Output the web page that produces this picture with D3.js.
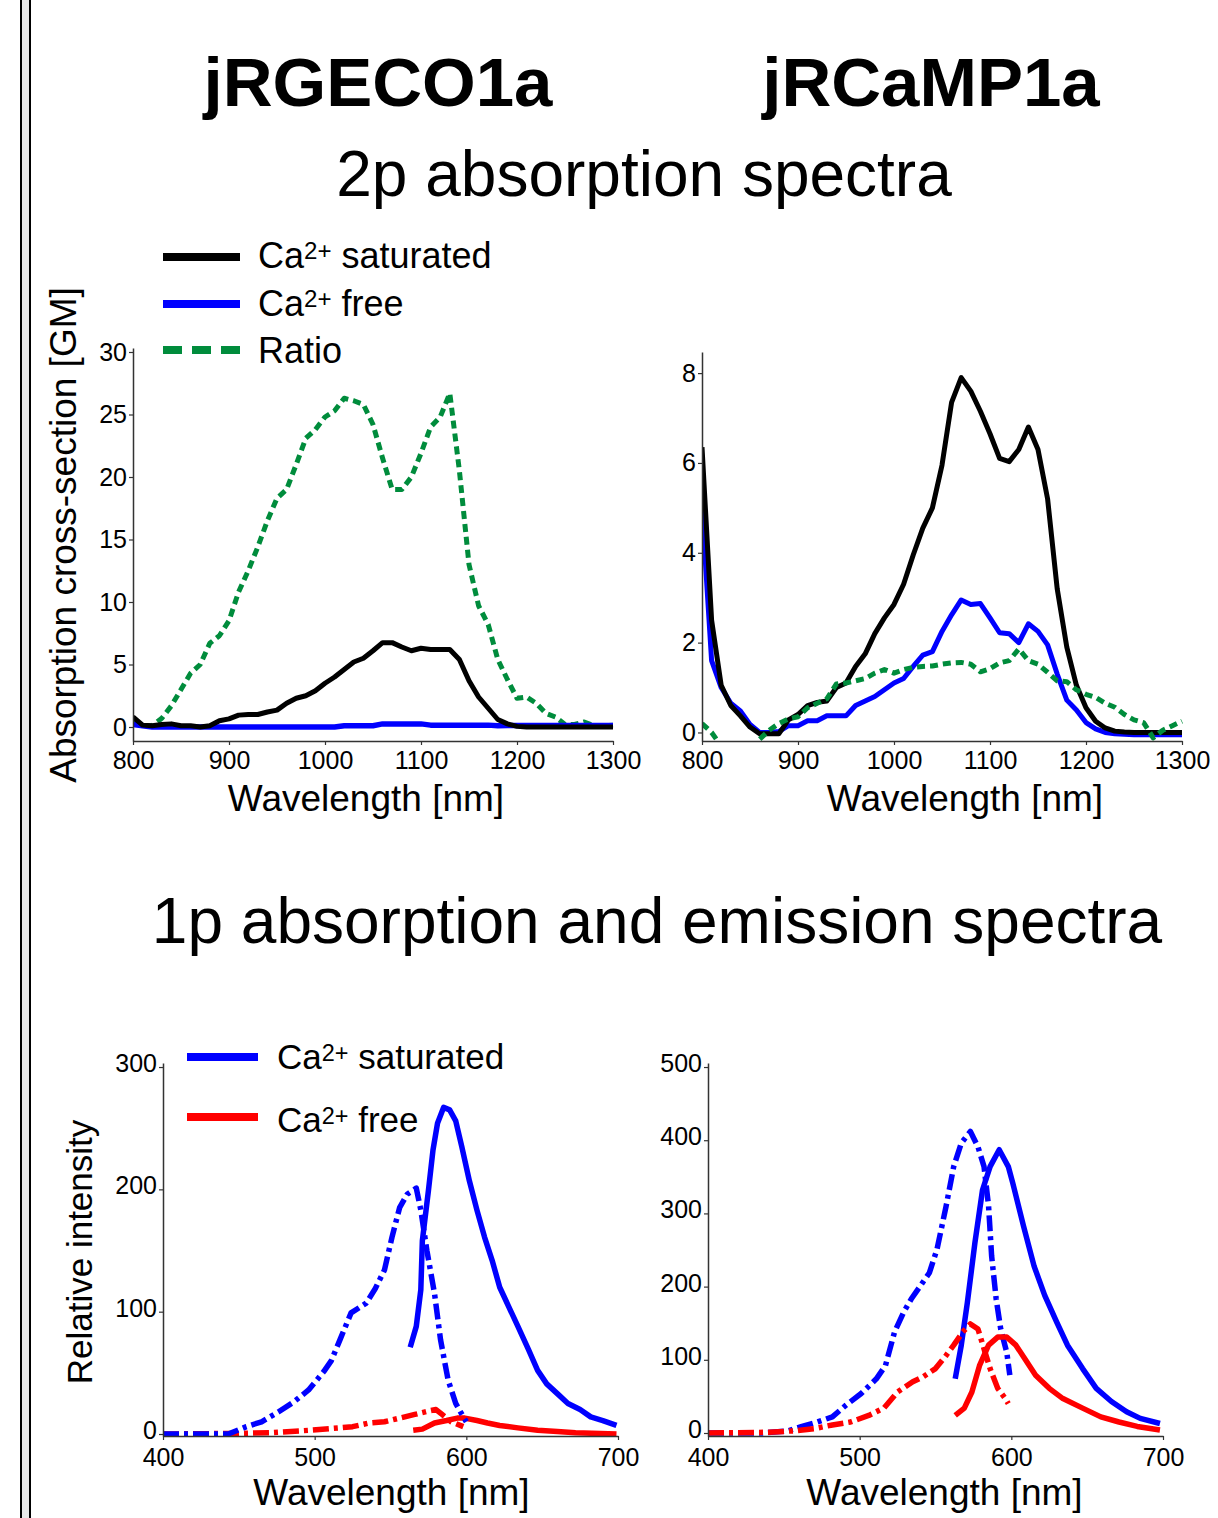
<!DOCTYPE html>
<html>
<head>
<meta charset="utf-8">
<script src="https://cdn.jsdelivr.net/npm/d3@7/dist/d3.min.js"></script>
<style>
body { margin: 0; background: #fff; }
svg { display: block; font-family: "Liberation Sans", Arial, sans-serif; }
</style>
</head>
<body>
<script>
// ---- 2p absorption data (GM), 10 nm steps ----
var wl2p = [800,810,820,830,840,850,860,870,880,890,900,910,920,930,940,950,960,970,980,990,
            1000,1010,1020,1030,1040,1050,1060,1070,1080,1090,1100,1110,1120,1130,1140,1150,1160,1170,1180,1190,
            1200,1210,1220,1230,1240,1250,1260,1270,1280,1290,1300];

var rgecoSat = [0.8,0.15,0.1,0.2,0.25,0.1,0.1,0.0,0.1,0.5,0.65,0.95,1.0,1.0,1.2,1.35,1.9,2.3,2.5,2.9,
                3.5,4.0,4.6,5.2,5.5,6.1,6.75,6.75,6.4,6.1,6.3,6.2,6.2,6.2,5.4,3.7,2.4,1.5,0.6,0.25,
                0.05,0,0,0,0,0,0,0,0,0,0];
var rgecoFree = [0.2,0.1,0,0,0,0,0,0,0,0,0,0,0,0,0,0,0,0,0,0,
                 0,0,0.1,0.1,0.1,0.1,0.25,0.25,0.25,0.25,0.25,0.15,0.15,0.15,0.15,0.15,0.15,0.15,0.1,0.12,
                 0.12,0.12,0.12,0.12,0.12,0.12,0.12,0.12,0.12,0.12,0.12];
var rgecoRatio = [0.3,0.1,0.1,0.7,1.7,3.0,4.3,5.0,6.7,7.3,8.5,10.8,12.5,14.4,16.5,18.3,19.0,21.0,23.1,23.8,
                  24.8,25.3,26.3,26.1,25.8,24.2,21.5,19.0,19.0,20.0,21.9,24.0,24.8,26.7,20.5,13.0,9.7,8.2,5.4,3.8,
                  2.3,2.4,1.9,1.1,0.8,0.2,0.2,0.4,0.1,0.1,0.15];

var rcampSat = [6.35,2.5,1.05,0.6,0.37,0.12,-0.03,-0.03,-0.03,0.28,0.4,0.6,0.67,0.7,1.0,1.1,1.47,1.75,2.2,2.55,
                2.85,3.3,3.95,4.55,5.0,5.95,7.35,7.9,7.6,7.15,6.65,6.1,6.03,6.3,6.8,6.3,5.2,3.2,1.9,1.05,
                0.55,0.25,0.1,0.03,0.01,0,0,0,0,0,0];
var rcampFree = [5.0,1.6,1.0,0.65,0.48,0.18,0.0,0.0,0.02,0.15,0.15,0.26,0.26,0.37,0.37,0.37,0.6,0.7,0.8,0.95,
                 1.1,1.2,1.47,1.72,1.8,2.25,2.62,2.95,2.85,2.87,2.55,2.22,2.2,2.0,2.42,2.25,1.95,1.3,0.72,0.5,
                 0.22,0.08,0.0,-0.03,-0.04,-0.05,-0.05,-0.05,-0.05,-0.05,-0.05];
var rcampRatio = [0.2,0.0,-0.3,-0.5,-0.5,-0.4,-0.15,0.05,0.2,0.3,0.35,0.55,0.65,0.75,1.08,1.1,1.15,1.2,1.32,1.4,
                  1.32,1.4,1.45,1.47,1.48,1.52,1.55,1.56,1.52,1.35,1.42,1.55,1.6,1.86,1.6,1.52,1.34,1.15,1.13,0.95,
                  0.85,0.78,0.65,0.56,0.4,0.28,0.22,-0.12,0.05,0.15,0.25];

// ---- 1p absorption (dash-dot) and emission (solid) data ----
var rgecoAbsSatWl = [400,430,443,455,465,476,486,496,506,511,517,524,534,540,546,551,556,561,567,570,574,579,583,588,593,598,600];
var rgecoAbsSat   = [0,0,0,6,10,18,26,36,51,60,78,99,107,119,134,161,185,196,201,183,150,115,77,44,25,14,10];
var rgecoEmSatWl  = [563,567,570,571,575,578,581,585,589,593,597,602,607,612,617,622,628,634,641,647,653,660,667,675,682,690,699];
var rgecoEmSat    = [71,88,118,158,199,232,254,267,265,256,235,207,183,161,142,120,104,88,69,52,41,33,25,20,14,11,7];
var rgecoAbsFreeWl = [400,450,470,496,516,525,536,546,556,566,576,580,584,590,598];
var rgecoAbsFree   = [0,0.5,1,3,5,6,9,10,13,16,19,20,16,10,6];
var rgecoEmFreeWl  = [565,571,579,587,594,599,607,614,622,634,647,660,672,699];
var rgecoEmFree    = [3,4,9,11,13,13,11,9,7,5,3,2,1,0];

var rcampAbsSatWl = [400,436,453,462,472,482,491,501,511,517,523,529,534,540,546,551,557,562,567,573,578,582,585,587,590,593,597,599];
var rcampAbsSat   = [0,0,3,9,15,22,38,54,74,92,138,165,183,201,219,251,310,364,396,412,391,364,310,242,183,142,110,79];
var rcampEmSatWl  = [563,567,571,576,581,586,592,598,601,608,615,622,630,637,647,656,666,676,685,698];
var rcampEmSat    = [74,120,178,260,332,364,387,364,341,283,228,188,151,120,88,61,43,29,20,13];
var rcampAbsFreeWl = [400,440,457,470,482,494,506,516,525,535,542,550,557,562,568,573,578,582,586,591,596,598];
var rcampAbsFree   = [0,1,3,6,11,15,24,34,56,70,77,88,106,120,138,149,142,115,88,61,47,40];
var rcampEmFreeWl  = [563,569,574,579,585,591,597,603,609,616,625,634,647,659,671,683,698];
var rcampEmFree    = [24,34,56,92,120,131,131,120,101,79,61,47,34,22,15,9,4];

var ticks2p = [800,900,1000,1100,1200,1300];
var ticks1p = [400,500,600,700];

var BLACK = "#000", BLUE = "#0000ff", GREEN = "#008c3c", RED = "#ff0000";
var DASHDOT = "16,5,4,5";

var svg = d3.select("body").append("svg")
    .attr("width", 1218)
    .attr("height", 1518);

// double rule at left edge
svg.append("rect").attr("x", 21).attr("y", 0).attr("width", 9).attr("height", 1518).attr("fill", "#e8e8e8");
svg.append("line").attr("x1", 21).attr("x2", 21).attr("y1", 0).attr("y2", 1518).attr("stroke", "#000").attr("stroke-width", 2);
svg.append("line").attr("x1", 30).attr("x2", 30).attr("y1", 0).attr("y2", 1518).attr("stroke", "#000").attr("stroke-width", 2);

// titles
svg.append("text").attr("x", 378).attr("y", 106).attr("text-anchor", "middle")
    .attr("font-size", 69).attr("font-weight", "bold").text("jRGECO1a");
svg.append("text").attr("x", 931).attr("y", 106).attr("text-anchor", "middle")
    .attr("font-size", 69).attr("font-weight", "bold").text("jRCaMP1a");
svg.append("text").attr("x", 644).attr("y", 196).attr("text-anchor", "middle")
    .attr("font-size", 64).text("2p absorption spectra");
svg.append("text").attr("x", 657).attr("y", 943).attr("text-anchor", "middle")
    .attr("font-size", 64).text("1p absorption and emission spectra");

var clipId = 0;

function panel(opt) {
    var x = d3.scaleLinear().domain(opt.xDomain).range(opt.xRange),
        y = d3.scaleLinear().domain(opt.yDomain).range(opt.yRange);

    var g = svg.append("g");
    var id = "clip" + (clipId++);
    g.append("clipPath").attr("id", id)
        .append("rect")
        .attr("x", opt.xRange[0])
        .attr("y", opt.yRange[1] - 6)
        .attr("width", opt.xRange[1] - opt.xRange[0] + 3)
        .attr("height", opt.yRange[0] - opt.yRange[1] + 6);

    var lines = g.append("g").attr("clip-path", "url(#" + id + ")");
    opt.series.forEach(function(s) {
        var line = d3.line()
            .x(function(d, i) { return x(s.wl[i]); })
            .y(function(d) { return y(d); });
        lines.append("path")
            .datum(s.values)
            .attr("d", line)
            .attr("fill", "none")
            .attr("stroke", s.color)
            .attr("stroke-width", s.width)
            .attr("stroke-linejoin", "round")
            .attr("stroke-dasharray", s.dash || null);
    });

    var fmt = d3.format("d");
    var xa = g.append("g")
        .attr("transform", "translate(0," + opt.yRange[0] + ")")
        .call(d3.axisBottom(x).tickValues(opt.xTicks).tickFormat(fmt)
            .tickSizeInner(4).tickSizeOuter(0).tickPadding(opt.xPad || 6));
    var ya = g.append("g")
        .attr("transform", "translate(" + opt.xRange[0] + ",0)")
        .call(d3.axisLeft(y).tickValues(opt.yTicks).tickFormat(fmt)
            .tickSizeInner(4).tickSizeOuter(0).tickPadding(2));
    if (opt.yDy) ya.selectAll("text").attr("dy", opt.yDy);

    [xa, ya].forEach(function(a) {
        a.select(".domain").attr("stroke", "#333").attr("stroke-width", 1.5);
        a.selectAll(".tick line").attr("stroke", "#333").attr("stroke-width", 1.2);
        a.selectAll("text").attr("font-size", 25).attr("fill", "#000")
            .attr("font-family", "Liberation Sans, Arial, sans-serif");
    });

    g.append("text")
        .attr("x", (opt.xRange[0] + opt.xRange[1]) / 2 + opt.xLabelShift)
        .attr("y", opt.xLabelY)
        .attr("text-anchor", "middle")
        .attr("font-size", 37)
        .text("Wavelength [nm]");

    if (opt.yLabel) {
        g.append("text")
            .attr("transform", "translate(" + opt.yLabelX + "," + opt.yLabelY + ") rotate(-90)")
            .attr("text-anchor", "middle")
            .attr("font-size", opt.yLabelSize)
            .text(opt.yLabel);
    }
}

function legend(items, x0, x1, tx, size) {
    items.forEach(function(it) {
        svg.append("line")
            .attr("x1", x0).attr("x2", x1)
            .attr("y1", it.y).attr("y2", it.y)
            .attr("stroke", it.color)
            .attr("stroke-width", 8)
            .attr("stroke-dasharray", it.dash || null);
        var t = svg.append("text").attr("x", tx).attr("y", it.ty).attr("font-size", size);
        if (it.sup) {
            t.append("tspan").text("Ca");
            t.append("tspan").attr("font-size", size * 0.67).attr("dy", -size * 0.24).text("2+");
            t.append("tspan").attr("dy", size * 0.24).text(it.label);
        } else {
            t.text(it.label);
        }
    });
}

// top left: jRGECO1a 2p
panel({
    xDomain: [800, 1300], xRange: [133, 613],
    yDomain: [-1.12, 30.32], yRange: [741, 348],
    xTicks: ticks2p, yTicks: [0, 5, 10, 15, 20, 25, 30],
    xLabelY: 811, xLabelShift: -7,
    yLabel: "Absorption cross-section [GM]", yLabelX: 76, yLabelY: 535, yLabelSize: 37,
    series: [
        {wl: wl2p, values: rgecoRatio, color: GREEN, width: 5, dash: "8,5"},
        {wl: wl2p, values: rgecoFree, color: BLUE, width: 5.5},
        {wl: wl2p, values: rgecoSat, color: BLACK, width: 5}
    ]
});

// top right: jRCaMP1a 2p
panel({
    xDomain: [800, 1300], xRange: [702, 1182],
    yDomain: [-0.19, 8.47], yRange: [741, 352],
    xTicks: ticks2p, yTicks: [0, 2, 4, 6, 8],
    xLabelY: 811, xLabelShift: 23,
    series: [
        {wl: wl2p, values: rcampFree, color: BLUE, width: 5},
        {wl: wl2p, values: rcampSat, color: BLACK, width: 5},
        {wl: wl2p, values: rcampRatio, color: GREEN, width: 5, dash: "8,5"}
    ]
});

// bottom left: jRGECO1a 1p
panel({
    xDomain: [400, 700], xRange: [163, 618],
    yDomain: [-1.63, 303.3], yRange: [1436, 1063],
    xTicks: ticks1p, yTicks: [0, 100, 200, 300],
    xPad: 8, yDy: "0.18em",
    xLabelY: 1505, xLabelShift: 1,
    yLabel: "Relative intensity", yLabelX: 92, yLabelY: 1252, yLabelSize: 35,
    series: [
        {wl: rgecoAbsFreeWl, values: rgecoAbsFree, color: RED, width: 5.5, dash: DASHDOT},
        {wl: rgecoEmFreeWl, values: rgecoEmFree, color: RED, width: 5.5},
        {wl: rgecoAbsSatWl, values: rgecoAbsSat, color: BLUE, width: 5.5, dash: DASHDOT},
        {wl: rgecoEmSatWl, values: rgecoEmSat, color: BLUE, width: 5.5}
    ]
});

// bottom right: jRCaMP1a 1p
panel({
    xDomain: [400, 700], xRange: [708, 1163],
    yDomain: [-4.1, 505.5], yRange: [1436, 1063],
    xTicks: ticks1p, yTicks: [0, 100, 200, 300, 400, 500],
    xPad: 8, yDy: "0.18em",
    xLabelY: 1505, xLabelShift: 9,
    series: [
        {wl: rcampAbsSatWl, values: rcampAbsSat, color: BLUE, width: 5.5, dash: DASHDOT},
        {wl: rcampEmSatWl, values: rcampEmSat, color: BLUE, width: 5.5},
        {wl: rcampAbsFreeWl, values: rcampAbsFree, color: RED, width: 5.5, dash: DASHDOT},
        {wl: rcampEmFreeWl, values: rcampEmFree, color: RED, width: 5.5}
    ]
});

legend([
    {y: 257, ty: 268, color: BLACK, sup: true, label: " saturated"},
    {y: 304, ty: 316, color: BLUE, sup: true, label: " free"},
    {y: 350, ty: 363, color: GREEN, dash: "19,10", label: "Ratio"}
], 163, 240, 258, 36);

legend([
    {y: 1057, ty: 1069, color: BLUE, sup: true, label: " saturated"},
    {y: 1117, ty: 1132, color: RED, sup: true, label: " free"}
], 187, 258, 277, 35);
</script>
</body>
</html>
